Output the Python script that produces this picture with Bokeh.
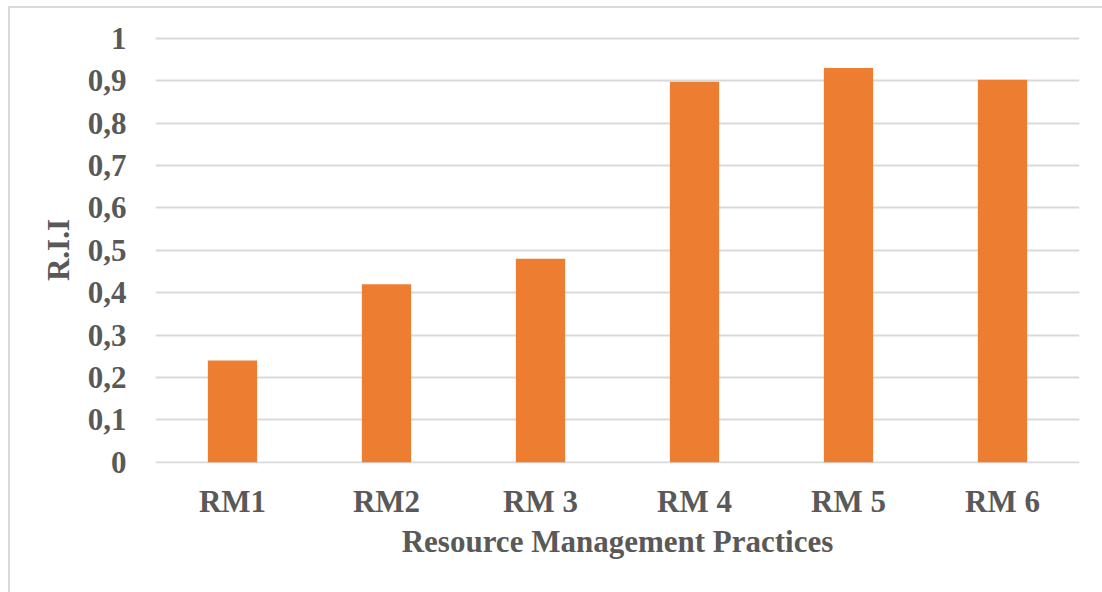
from bokeh.plotting import figure
from bokeh.embed import file_html
from bokeh.resources import INLINE
from bokeh.models import FixedTicker, CustomJSTickFormatter, Range1d

categories = ["RM1", "RM2", "RM 3", "RM 4", "RM 5", "RM 6"]
rii_values = [0.24, 0.42, 0.48, 0.897, 0.93, 0.902]
y_ticks = [0, 0.1, 0.2, 0.3, 0.4, 0.5, 0.6, 0.7, 0.8, 0.9, 1.0]
y_tick_labels = ["0", "0,1", "0,2", "0,3", "0,4", "0,5", "0,6", "0,7", "0,8", "0,9", "1"]

FONT = "Liberation Serif"
TXT = "#595959"
GRID = "#D9D9D9"
BAR = "#ED7D31"

p = figure(x_range=categories, y_range=Range1d(-0.003, 1.004),
           width=1094, height=586, output_backend="svg", toolbar_location=None,
           min_border_left=145, min_border_right=25, min_border_top=28, min_border_bottom=131)
p.margin = (6, 0, 0, 8)
p.styles = {"border-left": "2px solid #D9D9D9", "border-top": "2px solid #D9D9D9",
            "box-sizing": "border-box"}
p.outline_line_color = None

p.vbar(x=categories, top=rii_values, width=0.32, color=BAR, line_color=None)

p.xgrid.grid_line_color = None
p.ygrid.grid_line_color = GRID
p.ygrid.grid_line_width = 2
p.yaxis.ticker = FixedTicker(ticks=y_ticks)
p.yaxis.formatter = CustomJSTickFormatter(args=dict(tvals=y_ticks, tlabels=y_tick_labels), code="""
let best = 0; let d = 1e9;
for (let i = 0; i < tvals.length; i++) { const dd = Math.abs(tvals[i] - tick); if (dd < d) { d = dd; best = i; } }
return tlabels[best];
""")

for ax in (p.xaxis, p.yaxis):
    ax.axis_line_color = None
    ax.major_tick_line_color = None
    ax.minor_tick_line_color = None
    ax.major_label_text_font = FONT
    ax.major_label_text_font_style = "bold"
    ax.major_label_text_color = TXT
    ax.major_label_text_font_size = "31px"
    ax.axis_label_text_font = FONT
    ax.axis_label_text_font_style = "bold"
    ax.axis_label_text_color = TXT
    ax.axis_label_text_font_size = "31px"

p.xaxis.axis_label = "Resource Management Practices"
p.yaxis.axis_label = "R.I.I"
p.xaxis.major_label_standoff = 14
p.xaxis.axis_label_standoff = 2
p.yaxis.major_label_standoff = 23
p.yaxis.axis_label_standoff = 9

open("out.html", "w").write(file_html(p, INLINE))
